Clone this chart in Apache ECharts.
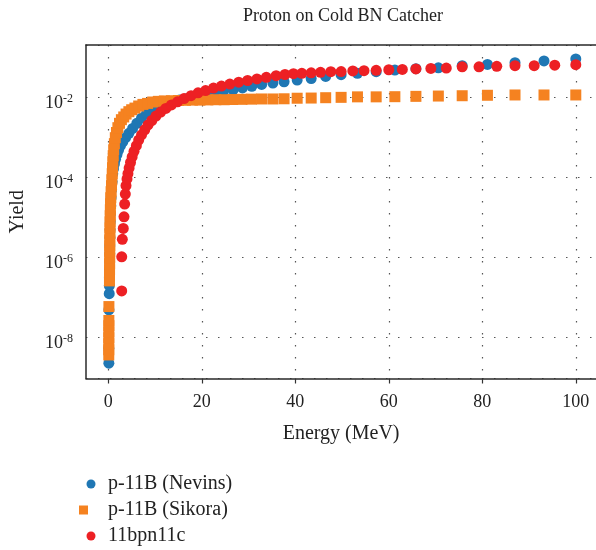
<!DOCTYPE html>
<html><head><meta charset="utf-8">
<script src="https://cdn.jsdelivr.net/npm/echarts@6.0.0/dist/echarts.min.js"></script>
<style>html,body{margin:0;padding:0;background:#fff;overflow:hidden;width:596px;height:550px}#c{width:640px;height:550px}</style>
</head><body><div id="c"></div>
<script>
// p-11B (Nevins)
const nevinsEnergy = [0.12,0.12,0.13,0.20,0.22,0.24,0.26,0.28,0.30,0.32,0.35,0.38,0.42,0.47,0.53,0.60,0.70,0.82,0.95,1.10,1.30,1.55,1.85,2.20,2.60,3.10,3.70,4.40,5.20,6.10,7.10,8.20,9.40,10.7,12.1,13.6,15.2,16.9,18.7,20.6,22.6,24.6,26.7,28.7,30.7,32.8,35.2,37.6,40.4,43.4,46.5,49.8,53.3,57.3,61.3,65.8,70.6,75.7,81.1,87.0,93.2,100.0];
const nevinsYield = [2.3e-9,5.4e-9,5.0e-8,1.26e-7,2.0e-7,3.16e-7,5.0e-7,7.9e-7,1.26e-6,2.0e-6,3.16e-6,5.0e-6,7.9e-6,1.26e-5,2.0e-5,3.16e-5,5.0e-5,7.9e-5,1.26e-4,1.66e-4,2.19e-4,2.88e-4,3.8e-4,4.9e-4,6.3e-4,7.9e-4,1.0e-3,1.29e-3,1.7e-3,2.29e-3,3.1e-3,4.07e-3,5.1e-3,6.2e-3,7.1e-3,7.9e-3,8.7e-3,9.5e-3,1.05e-2,1.15e-2,1.26e-2,1.41e-2,1.58e-2,1.76e-2,1.93e-2,2.14e-2,2.32e-2,2.5e-2,2.75e-2,3.0e-2,3.4e-2,3.76e-2,4.07e-2,4.47e-2,4.9e-2,5.3e-2,5.6e-2,6.3e-2,6.8e-2,7.5e-2,8.3e-2,9.3e-2];
// p-11B (Sikora)
const sikoraEnergy = [0.10,0.10,0.10,0.11,0.11,0.12,0.12,0.13,0.25,0.26,0.27,0.28,0.29,0.30,0.31,0.32,0.34,0.36,0.38,0.41,0.44,0.48,0.53,0.60,0.68,0.76,0.84,0.90,0.97,1.05,1.15,1.30,1.50,1.75,2.05,2.40,2.80,3.30,3.80,4.40,5.00,5.70,6.50,7.40,8.40,9.50,10.7,12.0,13.5,15.0,16.5,18.0,19.6,21.3,23.0,24.8,26.6,28.6,30.6,32.8,35.2,37.6,40.4,43.4,46.5,49.8,53.3,57.3,61.3,65.8,70.6,75.7,81.1,87.0,93.2,100.0];
const sikoraYield = [3.7e-9,5.0e-9,7.1e-9,1.0e-8,1.41e-8,2.0e-8,2.7e-8,6.0e-8,2.63e-7,3.55e-7,5.0e-7,7.1e-7,1.0e-6,1.41e-6,2.0e-6,2.8e-6,4.0e-6,5.6e-6,7.9e-6,1.12e-5,1.58e-5,2.24e-5,3.16e-5,4.47e-5,6.3e-5,8.9e-5,1.26e-4,1.78e-4,2.51e-4,3.55e-4,5.0e-4,7.1e-4,1.0e-3,1.35e-3,1.78e-3,2.29e-3,2.82e-3,3.3e-3,3.9e-3,4.47e-3,5.0e-3,5.5e-3,6.2e-3,6.8e-3,7.2e-3,7.8e-3,8.1e-3,8.3e-3,8.4e-3,8.5e-3,8.6e-3,8.7e-3,8.7e-3,8.8e-3,8.9e-3,8.9e-3,9.0e-3,9.1e-3,9.2e-3,9.3e-3,9.3e-3,9.4e-3,9.7e-3,9.8e-3,1.0e-2,1.02e-2,1.05e-2,1.05e-2,1.06e-2,1.08e-2,1.1e-2,1.12e-2,1.15e-2,1.17e-2,1.17e-2,1.17e-2];
// 11bpn11c
const bpnEnergy = [2.87,2.87,3.00,3.20,3.36,3.50,3.64,3.79,4.00,4.20,4.45,4.75,5.10,5.50,6.00,6.50,7.10,7.80,8.50,9.30,10.2,11.2,12.3,13.5,14.8,16.2,17.7,19.2,20.8,22.5,24.2,26.0,27.9,29.8,31.8,33.8,35.9,37.8,39.6,41.4,43.4,45.4,47.6,49.8,52.3,54.7,57.3,60.0,62.9,65.8,69.0,72.3,75.7,79.3,83.1,87.0,91.1,95.5,100.0];
const bpnYield = [1.48e-7,1.05e-6,2.88e-6,5.4e-6,1.05e-5,2.19e-5,3.9e-5,6.3e-5,9.3e-5,1.26e-4,1.74e-4,2.4e-4,3.3e-4,4.57e-4,6.3e-4,8.7e-4,1.17e-3,1.58e-3,2.09e-3,2.69e-3,3.47e-3,4.37e-3,5.4e-3,6.6e-3,7.9e-3,9.5e-3,1.12e-2,1.32e-2,1.51e-2,1.74e-2,1.95e-2,2.19e-2,2.45e-2,2.69e-2,2.95e-2,3.24e-2,3.55e-2,3.8e-2,3.98e-2,4.07e-2,4.2e-2,4.3e-2,4.47e-2,4.5e-2,4.68e-2,4.73e-2,4.84e-2,5.0e-2,5.1e-2,5.25e-2,5.4e-2,5.5e-2,5.9e-2,5.9e-2,6.1e-2,6.3e-2,6.3e-2,6.5e-2,6.7e-2];

const seriesNames = ['p-11B (Nevins)', 'p-11B (Sikora)', '11bpn11c'];
const xTicks = [0, 20, 40, 60, 80, 100];
const chartTitle = 'Proton on Cold BN Catcher';
const xName = 'Energy (MeV)';
const yName = 'Yield';

const FONT = 'Liberation Serif';
const TXT = '#222';
const zip = (xs, ys) => xs.map((x, i) => [x, ys[i]]);
// plot spans 4.675 px per MeV; the frame's right side lies beyond the visible 596 px
const X_MIN = -4.77, X_MAX = 109.5;

const chart = echarts.init(document.getElementById('c'), null, { renderer: 'canvas', width: 640, height: 550 });
chart.setOption({
  animation: false,
  backgroundColor: '#fff',
  title: {
    text: chartTitle, left: 343, top: 7, textAlign: 'center', padding: 0,
    textStyle: { fontFamily: FONT, fontSize: 18, fontWeight: 'normal', color: TXT }
  },
  grid: {
    left: 86, top: 45, width: 534.2, height: 333.5,
    show: false, containLabel: false, outerBoundsMode: 'none'
  },
  legend: {
    orient: 'vertical', left: 79, top: 474, padding: 0, itemGap: 6,
    itemWidth: 24, itemHeight: 9,
    textStyle: { fontFamily: FONT, fontSize: 20, color: TXT, lineHeight: 20 },
    data: [
      { name: seriesNames[0], icon: 'circle' },
      { name: seriesNames[1], icon: 'square' },
      { name: seriesNames[2], icon: 'circle' }
    ]
  },
  xAxis: [{
    type: 'value', position: 'bottom', min: X_MIN, max: X_MAX, splitNumber: 5,
    name: xName, nameLocation: 'middle', nameGap: 45,
    nameTextStyle: { fontFamily: FONT, fontSize: 20, color: TXT, padding: [0, 0, 0, -24] },
    axisLine: { show: true, onZero: false, lineStyle: { color: '#2a2a2a', width: 1.5 } },
    axisTick: { show: true, length: 5, customValues: xTicks, lineStyle: { color: '#333', width: 1.2 } },
    axisLabel: { customValues: xTicks, margin: 15, fontFamily: FONT, fontSize: 18, color: TXT },
    splitLine: { show: true, lineStyle: { type: [1.5, 10.5], color: '#555', width: 1.2 } }
  }, {
    type: 'value', position: 'top', min: X_MIN, max: X_MAX,
    axisLine: { show: true, onZero: false, lineStyle: { color: '#2a2a2a', width: 1.5 } },
    axisTick: { show: false }, axisLabel: { show: false }, splitLine: { show: false }
  }],
  yAxis: {
    type: 'log', logBase: 100, min: 9.55e-10, max: 0.2077,
    name: yName, nameLocation: 'middle', nameGap: 58, nameRotate: 90,
    nameTextStyle: { fontFamily: FONT, fontSize: 20, color: TXT },
    axisLine: { show: true, onZero: false, lineStyle: { color: '#2a2a2a', width: 1.5 } },
    axisTick: { show: false },
    axisLabel: {
      margin: 13, showMinLabel: false, showMaxLabel: false, padding: [10, 0, 0, 0],
      formatter: function (v) {
        const e = Math.log10(v); const r = Math.round(e);
        if (Math.abs(e - r) > 0.01) return '';
        return '{b|10}{s|' + r + '}';
      },
      rich: {
        b: { fontFamily: FONT, fontSize: 18, color: TXT, lineHeight: 20, verticalAlign: 'bottom' },
        s: { fontFamily: FONT, fontSize: 12, color: TXT, lineHeight: 12, verticalAlign: 'top' }
      }
    },
    splitLine: { show: true, lineStyle: { type: [1.5, 10.5], color: '#555', width: 1.2 } }
  },
  series: [
    { name: seriesNames[0], type: 'scatter', symbol: 'circle', symbolSize: 11,
      itemStyle: { color: '#1f77b4', opacity: 1 }, data: zip(nevinsEnergy, nevinsYield) },
    { name: seriesNames[1], type: 'scatter', symbol: 'square', symbolSize: 11,
      itemStyle: { color: '#f58220', opacity: 1 }, data: zip(sikoraEnergy, sikoraYield) },
    { name: seriesNames[2], type: 'scatter', symbol: 'circle', symbolSize: 11,
      itemStyle: { color: '#ed2024', opacity: 1 }, data: zip(bpnEnergy, bpnYield) }
  ]
});
</script>
</body></html>
